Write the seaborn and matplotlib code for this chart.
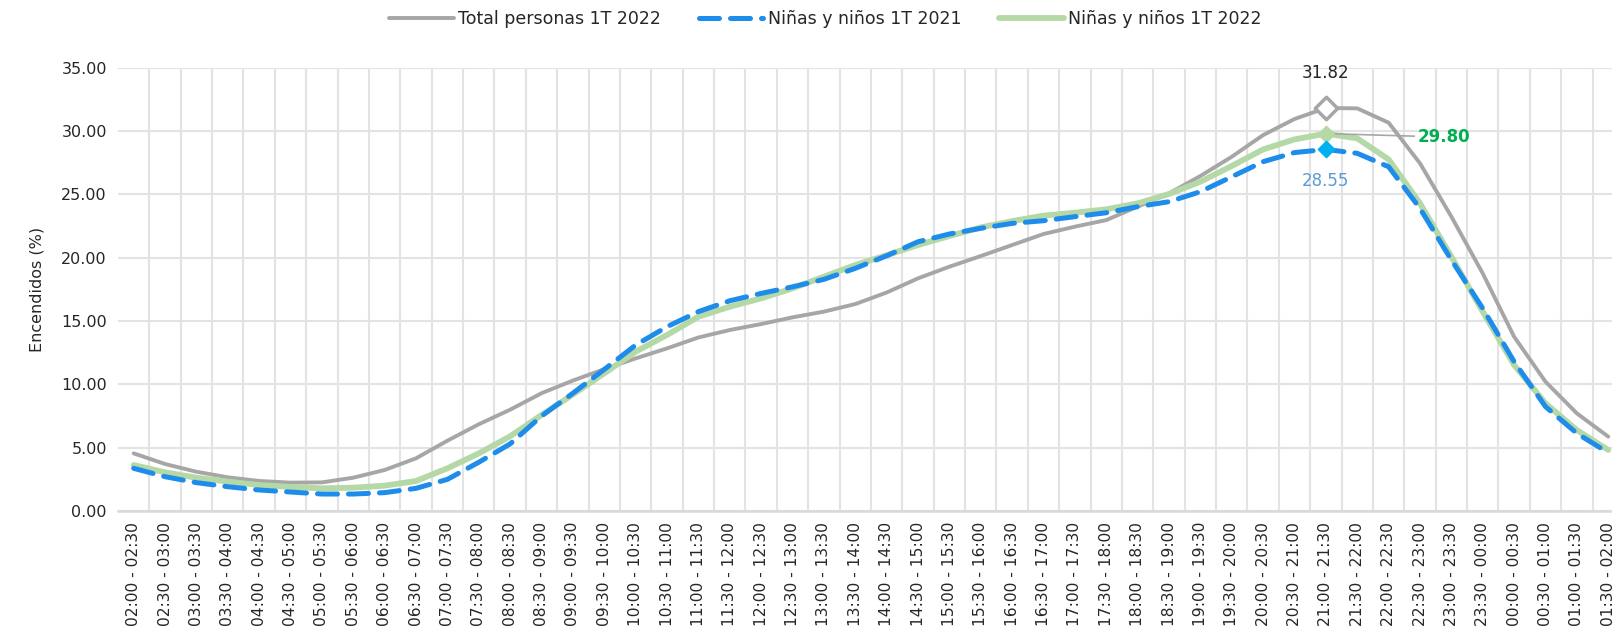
import numpy as np
import pandas as pd
import matplotlib
matplotlib.use("Agg")
import matplotlib.pyplot as plt
import seaborn as sns

# Half-hour slots, 02:00 to 02:00 the next day
slot_starts = ["02:00", "02:30", "03:00", "03:30", "04:00", "04:30", "05:00", "05:30",
               "06:00", "06:30", "07:00", "07:30", "08:00", "08:30", "09:00", "09:30",
               "10:00", "10:30", "11:00", "11:30", "12:00", "12:30", "13:00", "13:30",
               "14:00", "14:30", "15:00", "15:30", "16:00", "16:30", "17:00", "17:30",
               "18:00", "18:30", "19:00", "19:30", "20:00", "20:30", "21:00", "21:30",
               "22:00", "22:30", "23:00", "23:30", "00:00", "00:30", "01:00", "01:30"]
slot_labels = [f"{a} - {b}" for a, b in zip(slot_starts, slot_starts[1:] + ["02:00"])]

total_2022 = [4.55, 3.71, 3.10, 2.66, 2.37, 2.24, 2.26, 2.63, 3.24, 4.16,
              5.55, 6.85, 8.00, 9.30, 10.30, 11.20, 12.05, 12.84, 13.70, 14.29,
              14.76, 15.29, 15.74, 16.34, 17.25, 18.37, 19.29, 20.13, 21.00, 21.87,
              22.45, 22.97, 24.03, 25.08, 26.45, 27.97, 29.68, 30.95, 31.82, 31.79,
              30.66, 27.45, 23.24, 18.76, 13.76, 10.21, 7.71, 5.87]
kids_2021 = [3.37, 2.71, 2.24, 1.92, 1.66, 1.50, 1.34, 1.34, 1.45, 1.79,
             2.50, 3.85, 5.30, 7.50, 9.30, 11.18, 13.10, 14.55, 15.74, 16.60,
             17.18, 17.70, 18.29, 19.16, 20.15, 21.26, 21.87, 22.32, 22.71, 22.92,
             23.24, 23.55, 24.03, 24.42, 25.21, 26.39, 27.58, 28.30, 28.55, 28.24,
             27.18, 23.89, 19.82, 16.00, 11.79, 8.24, 6.13, 4.60]
kids_2022 = [3.63, 3.05, 2.63, 2.32, 2.05, 1.90, 1.79, 1.84, 2.00, 2.37,
             3.37, 4.55, 5.90, 7.58, 9.20, 10.87, 12.58, 13.90, 15.34, 16.13,
             16.79, 17.58, 18.50, 19.42, 20.20, 21.00, 21.71, 22.39, 22.89, 23.32,
             23.55, 23.82, 24.29, 25.03, 26.00, 27.24, 28.55, 29.34, 29.80, 29.42,
             27.76, 24.29, 20.08, 15.74, 11.53, 8.50, 6.39, 4.82]

series_names = ["Total personas 1T 2022", "Niñas y niños 1T 2021", "Niñas y niños 1T 2022"]
peak_idx = 38

df = pd.DataFrame({
    "pos": np.tile(np.arange(len(slot_labels)), 3),
    "valor": total_2022 + kids_2021 + kids_2022,
    "serie": np.repeat(series_names, len(slot_labels)),
})

sns.set_theme(style="white")
plt.rcParams["font.family"] = ["DejaVu Sans"]
text_col = "#262626"

fig = plt.figure(figsize=(16.12, 6.34), dpi=100)
ax = fig.add_axes([0.0732, 0.194, 0.9342, 0.6992])

palette = {series_names[0]: "#A6A6A6", series_names[1]: "#1E8CEB", series_names[2]: "#B5D8A7"}
widths = {series_names[0]: 2.8, series_names[1]: 3.6, series_names[2]: 4.2}

for name in series_names:
    sub = df[df["serie"] == name]
    sns.lineplot(data=sub, x="pos", y="valor", ax=ax, color=palette[name],
                 linewidth=widths[name], label=name, zorder=3 if name != series_names[1] else 4,
                 solid_capstyle="round")

lines = ax.get_lines()
lines[1].set_dashes([4.0, 2.2])
lines[1].set_dash_capstyle("round")

# Peak markers
ax.scatter([peak_idx], [total_2022[peak_idx]], marker="D", s=130, facecolor="white",
           edgecolor="#A6A6A6", linewidth=2.5, zorder=6)
ax.scatter([peak_idx], [kids_2022[peak_idx]], marker="D", s=70, facecolor="#B5D8A7",
           edgecolor="#B5D8A7", zorder=5)
ax.scatter([peak_idx], [kids_2021[peak_idx]], marker="D", s=70, facecolor="#00B0F0",
           edgecolor="#00B0F0", zorder=6)

# Peak labels
ax.annotate(f"{total_2022[peak_idx]:.2f}", (peak_idx, total_2022[peak_idx]),
            xytext=(0, 25), textcoords="offset points", ha="center", va="center",
            fontsize=12, color=text_col)
ax.annotate(f"{kids_2022[peak_idx]:.2f}", (peak_idx, kids_2022[peak_idx]),
            xytext=(66, -2.5), textcoords="offset points", ha="left", va="center",
            fontsize=12, color="#00B050", fontweight="bold",
            arrowprops=dict(arrowstyle="-", color="#A6A6A6", lw=1.2,
                            shrinkA=0, shrinkB=5))
ax.annotate(f"{kids_2021[peak_idx]:.2f}", (peak_idx, kids_2021[peak_idx]),
            xytext=(0, -23), textcoords="offset points", ha="center", va="center",
            fontsize=12, color="#5B9BD5")

ax.set_xlim(-0.5, len(slot_labels) - 0.5)
ax.set_ylim(0, 35)
ax.set_yticks(np.arange(0, 35.1, 5))
ax.set_yticklabels([f"{v:.2f}" for v in np.arange(0, 35.1, 5)], fontsize=11.5, color=text_col)
ax.set_xticks(np.arange(len(slot_labels)))
ax.set_xticklabels(slot_labels, rotation=90, fontsize=11.2, color=text_col)
ax.set_xticks(np.arange(len(slot_labels)) + 0.5, minor=True)
ax.tick_params(axis="both", which="both", length=0)
ax.tick_params(axis="x", pad=8)
ax.tick_params(axis="y", pad=8)

ax.grid(False)
ax.yaxis.grid(True, color="#E3E3E3", linewidth=1.5)
ax.xaxis.grid(True, which="minor", color="#E3E3E3", linewidth=1.5)
ax.set_axisbelow(True)
for side in ["left", "right", "top"]:
    ax.spines[side].set_visible(False)
ax.spines["bottom"].set_color("#D9D9D9")
ax.spines["bottom"].set_linewidth(1.8)

ax.set_xlabel("")
ax.set_ylabel("Encendidos (%)", fontsize=11.5, color=text_col, labelpad=12)

handles, labels = ax.get_legend_handles_labels()
ax.legend(handles, labels, loc="center", bbox_to_anchor=(0.512, 0.9705),
          bbox_transform=fig.transFigure, ncol=3, frameon=False, fontsize=12.5,
          handlelength=3.7, handletextpad=0.25, columnspacing=2.2, labelcolor=text_col)

fig.savefig("out.png", dpi=100)
